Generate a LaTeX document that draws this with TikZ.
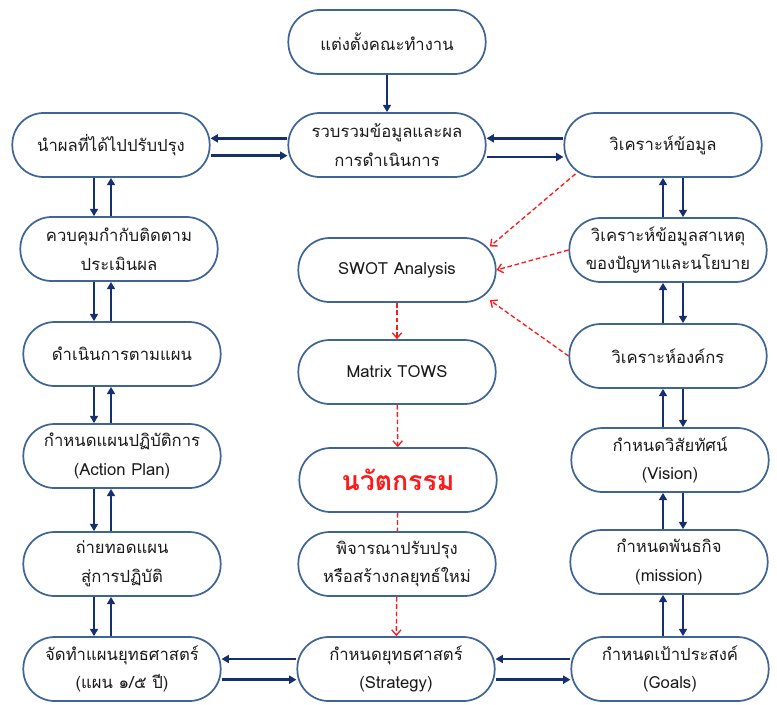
\documentclass[tikz,border=0pt]{standalone}
\usepackage{fontspec}
\newfontfamily\thaifont[Script=Thai]{Loma}
\usetikzlibrary{arrows.meta,positioning}
\definecolor{boxline}{HTML}{3F6597}
\definecolor{navy}{HTML}{15306C}
\definecolor{innovred}{HTML}{FF1A1A}
\definecolor{textdark}{HTML}{1A1A1A}
\tikzset{
  stepbox/.style={draw=boxline,line width=1.3pt,fill=white,rounded corners=23.5pt,align=center,
    minimum width=148pt,minimum height=48pt,inner sep=2pt,text=textdark,
    font=\thaifont\fontsize{12.5}{21.5}\selectfont},
  arrow/.style={-{Triangle[length=5.5pt,width=6pt]},draw=navy,line width=1.9pt},
  redflow/.style={-{Straight Barb[length=4pt,width=7pt]},draw=innovred,line width=1pt,
    dash pattern=on 3.5pt off 2pt},
  redlink/.style={draw=innovred,line width=1pt,dash pattern=on 3.5pt off 2pt}
}

\begin{document}
\begin{tikzpicture}[x=0.75pt,y=-0.75pt]
  \useasboundingbox (0,0) rectangle (777,704);
  \node[stepbox] (team) at (387,42) {แต่งตั้งคณะทำงาน};
  \node[stepbox] (collect) at (387,145) {รวบรวมข้อมูลและผล\\การดำเนินการ};
  \node[stepbox] (improve) at (111,145) {นำผลที่ได้ไปปรับปรุง};
  \node[stepbox] (analyze) at (663,145) {วิเคราะห์ข้อมูล};
  \node[stepbox] (control) at (119,249) {ควบคุมกำกับติดตาม\\ประเมินผล};
  \node[stepbox] (operate) at (122,354) {ดำเนินการตามแผน};
  \node[stepbox] (action) at (122,456) {กำหนดแผนปฏิบัติการ\\(Action Plan)};
  \node[stepbox] (transfer) at (122,564) {ถ่ายทอดแผน\\สู่การปฏิบัติ};
  \node[stepbox] (plan) at (122,669) {จัดทำแผนยุทธศาสตร์\\(แผน ๑/๕ ปี)};
  \node[stepbox] (swot) at (397,270) {SWOT Analysis};
  \node[stepbox] (tows) at (397,372) {Matrix TOWS};
  \node[stepbox,text=innovred,font=\thaifont\bfseries\fontsize{20}{24}\selectfont] (innov) at (398,480) {นวัตกรรม};
  \node[stepbox] (review) at (397,564) {พิจารณาปรับปรุง\\หรือสร้างกลยุทธ์ใหม่};
  \node[stepbox] (strategy) at (396,669) {กำหนดยุทธศาสตร์\\(Strategy)};
  \node[stepbox] (cause) at (668,250) {วิเคราะห์ข้อมูลสาเหตุ\\ของปัญหาและนโยบาย};
  \node[stepbox] (org) at (668,356) {วิเคราะห์องค์กร};
  \node[stepbox] (vision) at (670,460) {กำหนดวิสัยทัศน์\\(Vision)};
  \node[stepbox] (mission) at (669,562) {กำหนดพันธกิจ\\(mission)};
  \node[stepbox] (goals) at (670,669) {กำหนดเป้าประสงค์\\(Goals)};

  \coordinate (ldown) at (94,0);
  \coordinate (lup) at (111,0);
  \coordinate (rup) at (663,0);
  \coordinate (rdown) at (683,0);

  \draw[arrow] (team) -- (collect);
  \draw[arrow] ([yshift=5pt]collect.west) -- ([yshift=5pt]improve.east);
  \draw[arrow] ([yshift=-8pt]improve.east) -- ([yshift=-8pt]collect.west);
  \draw[arrow] ([yshift=5pt]analyze.west) -- ([yshift=5pt]collect.east);
  \draw[arrow] ([yshift=-9pt]collect.east) -- ([yshift=-9pt]analyze.west);
  \draw[arrow] ([yshift=7.5pt]strategy.west) -- ([yshift=7.5pt]plan.east);
  \draw[arrow] ([yshift=-8pt]plan.east) -- ([yshift=-8pt]strategy.west);
  \draw[arrow] ([yshift=7.5pt]goals.west) -- ([yshift=7.5pt]strategy.east);
  \draw[arrow] ([yshift=-8pt]strategy.east) -- ([yshift=-8pt]goals.west);
  \foreach \a/\b in {improve/control,control/operate,operate/action,action/transfer,transfer/plan}{
    \draw[arrow] (\a.south -| ldown) -- (\b.north -| ldown);
    \draw[arrow] (\b.north -| lup) -- (\a.south -| lup);
  }
  \foreach \a/\b in {analyze/cause,cause/org,org/vision,vision/mission,mission/goals}{
    \draw[arrow] (\a.south -| rdown) -- (\b.north -| rdown);
    \draw[arrow] (\b.north -| rup) -- (\a.south -| rup);
  }

  \draw[redflow] ([xshift=9pt,yshift=3pt]analyze.south west) -- ([xshift=-5pt,yshift=-7pt]swot.north east);
  \draw[redflow] (cause.west) -- (swot.east);
  \draw[redflow] (org.west) -- ([xshift=-5pt,yshift=2pt]swot.south east);
  \draw[redflow] (swot) -- (tows);
  \draw[redflow] (tows) -- (innov);
  \draw[redlink] (innov) -- (review);
  \draw[redflow] (review) -- (strategy);
\end{tikzpicture}
\end{document}
